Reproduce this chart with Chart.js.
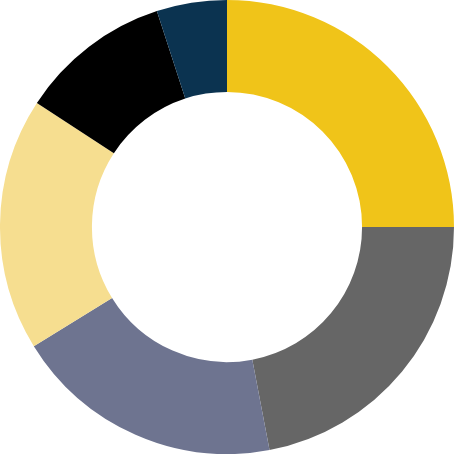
<!DOCTYPE html>
<html>
<head>
<meta charset="utf-8">
<script src="https://cdn.jsdelivr.net/npm/chart.js@4/dist/chart.umd.min.js"></script>
<style>
  html, body { margin: 0; padding: 0; background: #fff; }
  .chart-container { width: 454px; height: 454px; }
</style>
</head>
<body>
<div class="chart-container"><canvas id="chart"></canvas></div>
<script>
const labels = ['A', 'B', 'C', 'D', 'E', 'F'];
const values = [25, 22, 19.2, 18, 10.8, 5];
const colors = ['#F0C419', '#666666', '#6E7490', '#F6DE90', '#000000', '#0B3350'];

const ctx = document.getElementById('chart').getContext('2d');
new Chart(ctx, {
  type: 'doughnut',
  data: {
    labels,
    datasets: [{
      data: values,
      backgroundColor: colors,
      borderWidth: 0,
    }]
  },
  options: {
    responsive: true,
    maintainAspectRatio: false,
    animation: false,
    cutout: '59.5%',
    layout: { padding: 0 },
    plugins: {
      legend: { display: false },
      tooltip: { enabled: false },
    },
  },
});
</script>
</body>
</html>
